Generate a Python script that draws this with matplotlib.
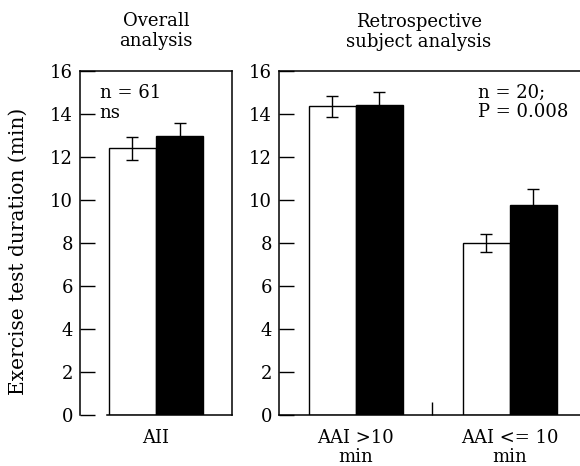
import matplotlib
matplotlib.use("Agg")
import matplotlib.pyplot as plt

plt.rcParams['font.family'] = ['DejaVu Serif']
plt.rcParams['font.size'] = 13

# values (min)
overall_labels = ['AII']
overall_white = [12.4]
overall_white_err = [0.55]
overall_black = [13.0]
overall_black_err = [0.6]

retro_labels = ['AAI >10\nmin', 'AAI <= 10\nmin']
retro_white = [14.35, 8.0]
retro_white_err = [0.5, 0.4]
retro_black = [14.4, 9.75]
retro_black_err = [0.62, 0.75]

yticks = [0, 2, 4, 6, 8, 10, 12, 14, 16]

W, H = 580, 466
fig = plt.figure(figsize=(W / 100, H / 100), dpi=100)


def px_axes(left, right, top, bottom):
    return fig.add_axes([left / W, (H - bottom) / H, (right - left) / W, (bottom - top) / H])


def draw_groups(ax, centers, white, white_err, black, black_err):
    xw = [c - 0.5 for c in centers]
    xb = [c + 0.5 for c in centers]
    ax.bar(xw, white, width=1.0, color='white', edgecolor='black', linewidth=1.0, zorder=2)
    ax.bar(xb, black, width=1.0, color='black', edgecolor='black', linewidth=1.0, zorder=2)
    ax.errorbar(xw, white, yerr=white_err, fmt='none', ecolor='black', elinewidth=1.0,
                capsize=4, capthick=1.0, zorder=3)
    ax.errorbar(xb, black, yerr=black_err, fmt='none', ecolor='black', elinewidth=1.0,
                capsize=4, capthick=1.0, zorder=3)


def style(ax):
    ax.set_ylim(0, 16)
    ax.set_yticks(yticks)
    ax.tick_params(axis='y', direction='in', length=11, width=1.0, pad=5, labelsize=13)
    ax.tick_params(axis='x', length=0, pad=10, labelsize=13)
    for s in ax.spines.values():
        s.set_linewidth(1.1)


# left panel: overall analysis
ax1 = px_axes(80, 232, 71, 415)
centers1 = [0.0]
draw_groups(ax1, centers1, overall_white, overall_white_err, overall_black, overall_black_err)
ax1.set_xlim(-1.617, 1.617)
ax1.set_xticks(centers1)
ax1.set_xticklabels(overall_labels)
style(ax1)
ax1.spines['bottom'].set_bounds(-1.04, 1.617)
ax1.set_ylabel('Exercise test duration (min)', fontsize=14.5)
ax1.yaxis.set_label_coords(-0.345, 0.477)
ax1.text(-1.2, 15.0, 'n = 61', va='center', ha='left', fontsize=13)
ax1.text(-1.2, 14.05, 'ns', va='center', ha='left', fontsize=13)
fig.text(156 / W, 1 - 31 / H, 'Overall\nanalysis', ha='center', va='center',
         fontsize=13, linespacing=1.15)

# right panel: retrospective subject analysis
ax2 = px_axes(279, 581, 71, 415)
centers2 = [0.0, 3.277]
draw_groups(ax2, centers2, retro_white, retro_white_err, retro_black, retro_black_err)
ax2.set_xlim(-1.638, 4.79)
ax2.set_xticks(centers2)
ax2.set_xticklabels(retro_labels, linespacing=1.1)
ax2.set_xticks([1.62], minor=True)
ax2.tick_params(axis='x', which='minor', direction='in', length=9.5, width=1.0)
style(ax2)
ax2.spines['right'].set_visible(False)
ax2.text(2.6, 15.0, 'n = 20;', va='center', ha='left', fontsize=13)
ax2.text(2.6, 14.1, 'P = 0.008', va='center', ha='left', fontsize=13)
fig.text(419 / W, 1 - 32 / H, 'Retrospective\nsubject analysis', ha='center', va='center',
         fontsize=13, linespacing=1.15)

fig.savefig('out.png', dpi=100)
